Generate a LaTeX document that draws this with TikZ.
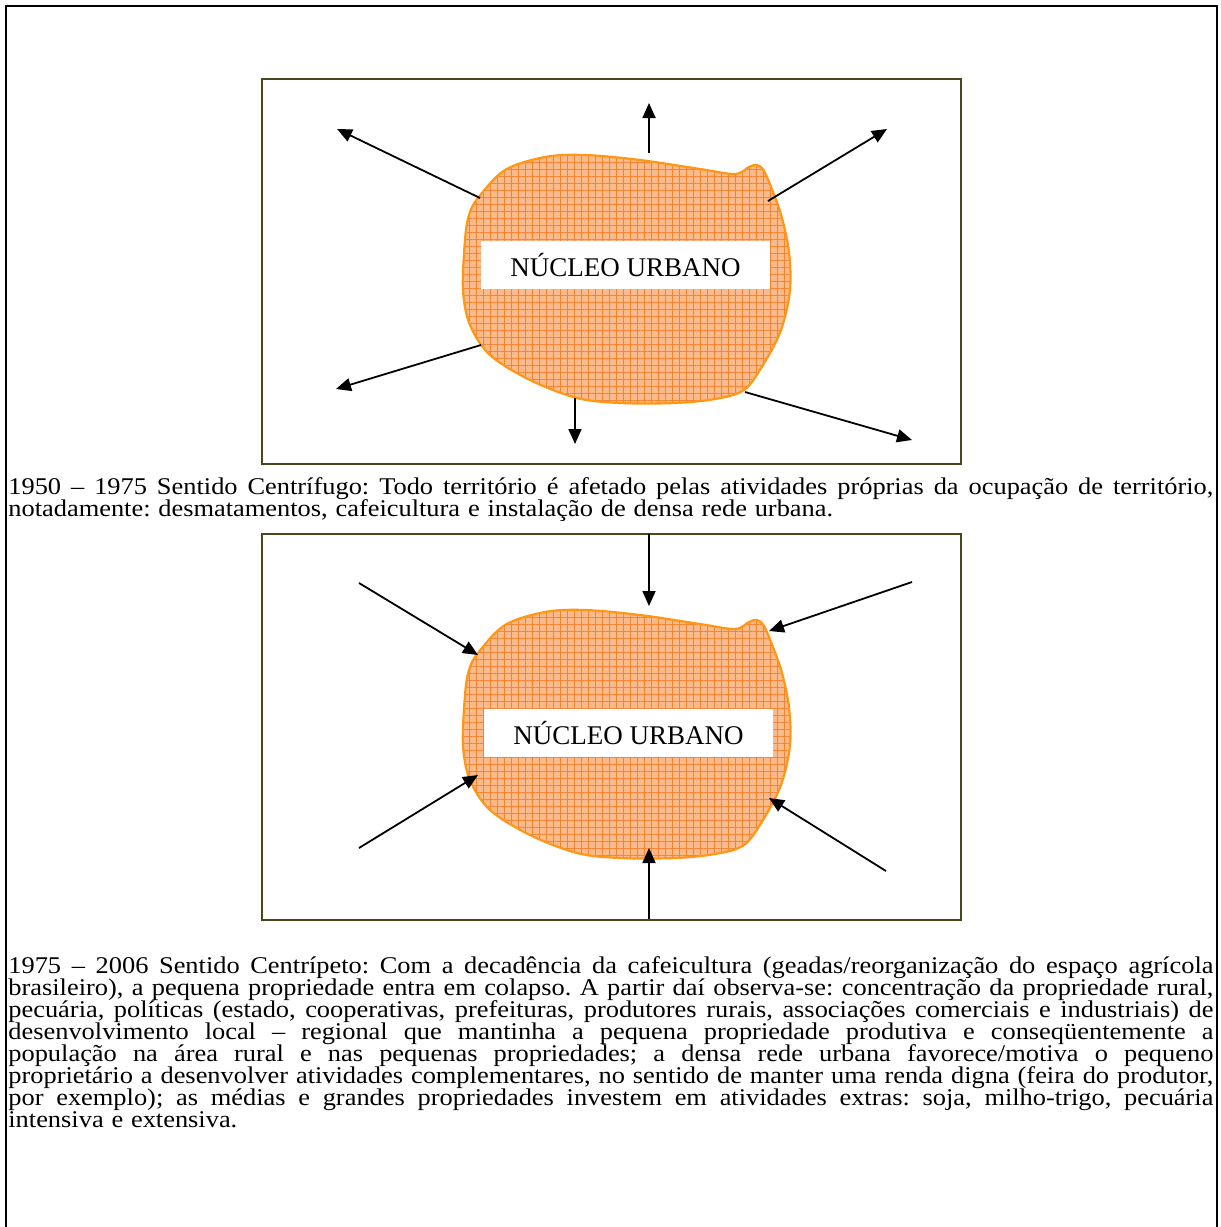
\documentclass[tikz,border=0pt]{standalone}
\usepackage{fontspec}
\setmainfont{Liberation Serif}
\newfontfamily\capfont[FakeStretch=1.10]{Liberation Serif}
\usetikzlibrary{arrows.meta,patterns.meta}
\definecolor{boxolive}{RGB}{72,72,24}
\definecolor{blobfill}{RGB}{250,186,138}
\definecolor{blobgrid}{RGB}{242,132,52}
\definecolor{blobline}{RGB}{255,150,20}
\newcommand\jline[1]{\makebox[602.5pt][s]{#1}}
\newcommand\capsetup{\lineskiplimit=-\maxdimen\spaceskip=3.9pt plus 4pt minus 1pt\relax}
\tikzset{
  boxframe/.style={draw=boxolive, line width=0.8pt, inner sep=0pt},
  arr/.style={-{Triangle[length=7.5pt,width=6.5pt]}, line width=0.9pt, black},
  nucleo/.style={fill=white, inner sep=0pt, minimum width=144.5pt, minimum height=24pt, font=\fontsize{13.5pt}{14pt}\selectfont},
  captext/.style={anchor=base west, inner sep=0pt, font=\capfont\fontsize{12pt}{11pt}\selectfont},
  blobarea/.style={fill=blobfill,
    postaction={pattern={Lines[angle=0,distance=3.5pt,line width=0.5pt]}, pattern color=blobgrid},
    postaction={pattern={Lines[angle=90,distance=3.5pt,line width=0.5pt]}, pattern color=blobgrid},
    postaction={draw=blobline, line width=1.1pt}}
}
\begin{document}
\frenchspacing
\begin{tikzpicture}[x=0.5pt,y=-0.5pt]
\useasboundingbox (0,0) rectangle (1221,1227);
% outer frame
\draw[line width=1pt] (6,1240) -- (6,6) -- (1217,6) -- (1217,1240);
% boxes
\node[boxframe, minimum width=349.5pt, minimum height=192.5pt] (box1) at (611.5,271.5) {};
\node[boxframe, minimum width=349.5pt, minimum height=193pt] (box2) at (611.5,727) {};
% blobs
\foreach \dy in {0,455}{
\begin{scope}[shift={(0,\dy)}]
\path[blobarea] plot[smooth cycle, tension=0.55] coordinates {
 (478,198) (505,170) (545,157) (585,155) (640,160) (700,169) (735,174)
 (749,167) (757,165) (764,171) (773,192) (782,218) (789,252) (790,290)
 (781,330) (763,365) (744,390) (715,399) (675,403) (620,403) (577,398)
 (530,380) (490,355) (470,325) (463,290) (465,240) (469,215)};
\end{scope}
}
% labels
\node[nucleo] (n1) at (625.5,265) {NÚCLEO URBANO};
\node[nucleo] (n2) at (628.5,733) {NÚCLEO URBANO};
% arrows box 1 (outward)
\coordinate (a1s) at (480,198); \coordinate (a1e) at (337,129);
\coordinate (a2s) at (649,153); \coordinate (a2e) at (649,103);
\coordinate (a3s) at (768,201); \coordinate (a3e) at (887,129);
\coordinate (a4s) at (481,345); \coordinate (a4e) at (336,389);
\coordinate (a5s) at (575,398); \coordinate (a5e) at (575,444);
\coordinate (a6s) at (745,392); \coordinate (a6e) at (912,440);
\foreach \i in {1,...,6} \draw[arr] (a\i s) -- (a\i e);
% arrows box 2 (inward)
\coordinate (b1s) at (359,583); \coordinate (b1e) at (478,655);
\coordinate (b2s) at (649,534); \coordinate (b2e) at (649,606);
\coordinate (b3s) at (912,582); \coordinate (b3e) at (769,631);
\coordinate (b4s) at (359,848); \coordinate (b4e) at (478,775);
\coordinate (b5s) at (649,919); \coordinate (b5e) at (649,848);
\coordinate (b6s) at (886,871); \coordinate (b6e) at (769,798);
\foreach \i in {1,...,6} \draw[arr] (b\i s) -- (b\i e);
% captions
\node[captext] (cap1) at (8,494) {\parbox[t]{602.5pt}{\capsetup
\jline{1950 – 1975 Sentido Centrífugo: Todo território é afetado pelas atividades próprias da ocupação de território,}\\
notadamente: desmatamentos, cafeicultura e instalação de densa rede urbana.}};
\node[captext] (cap2) at (8,973) {\parbox[t]{602.5pt}{\capsetup
\jline{1975 – 2006 Sentido Centrípeto: Com a decadência da cafeicultura (geadas/reorganização do espaço agrícola}\\
\jline{brasileiro), a pequena propriedade entra em colapso. A partir daí observa-se: concentração da propriedade rural,}\\
\jline{pecuária, políticas (estado, cooperativas, prefeituras, produtores rurais, associações comerciais e industriais) de}\\
\jline{desenvolvimento local – regional que mantinha a pequena propriedade produtiva e conseqüentemente a}\\
\jline{população na área rural e nas pequenas propriedades; a densa rede urbana favorece/motiva o pequeno}\\
\jline{proprietário a desenvolver atividades complementares, no sentido de manter uma renda digna (feira do produtor,}\\
\jline{por exemplo); as médias e grandes propriedades investem em atividades extras: soja, milho-trigo, pecuária}\\
intensiva e extensiva.}};
\end{tikzpicture}
\end{document}
